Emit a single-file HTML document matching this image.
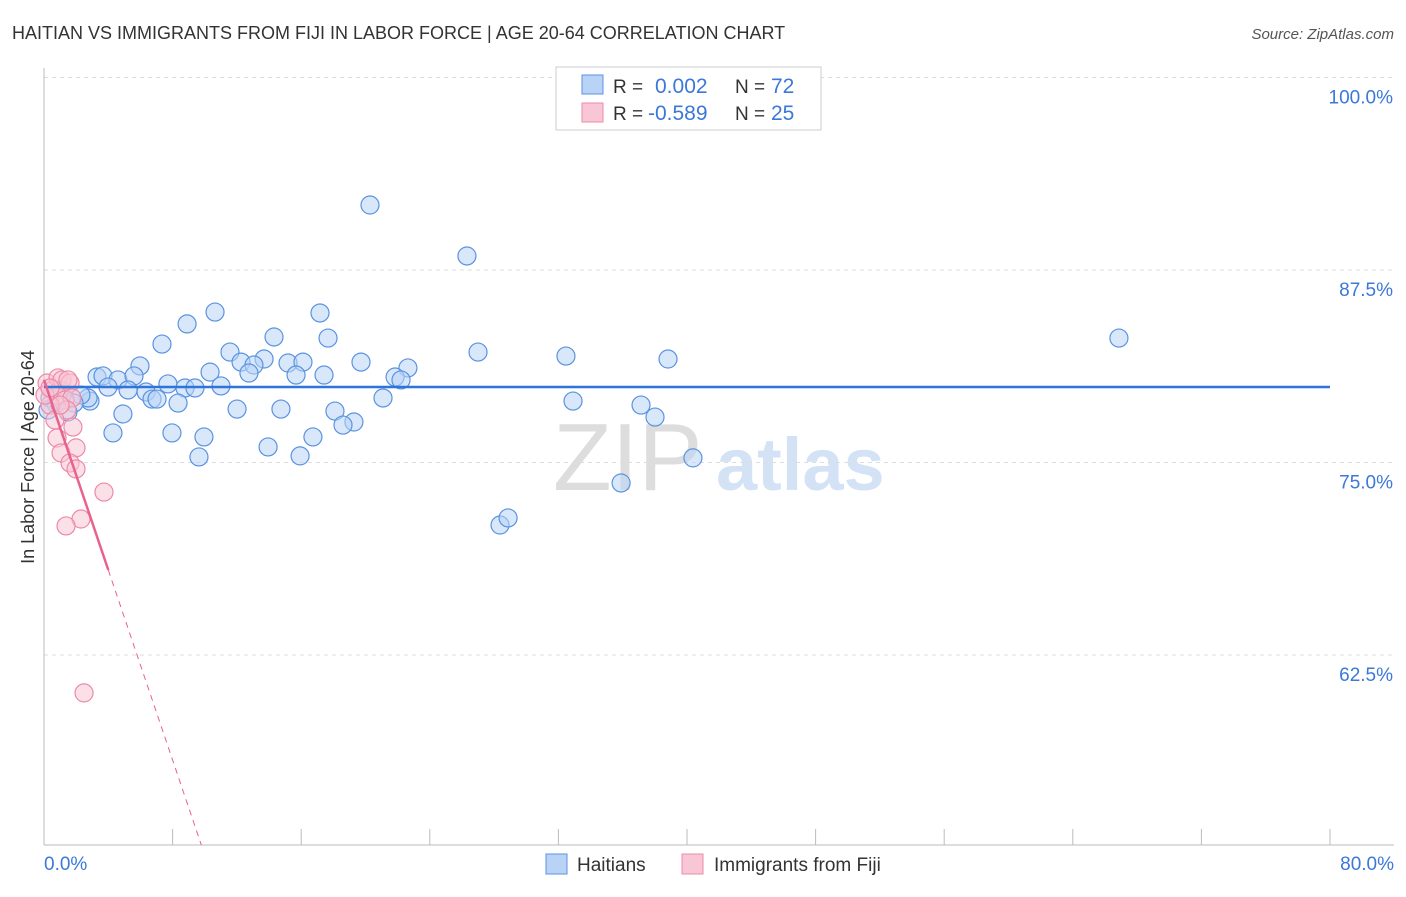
<!DOCTYPE html>
<html><head><meta charset="utf-8"><style>
body{margin:0;background:#fff;font-family:"Liberation Sans",sans-serif}
svg text{font-family:"Liberation Sans",sans-serif}
</style></head><body>
<svg id="chart" width="1406" height="892" xmlns="http://www.w3.org/2000/svg">
<text x="12" y="39" font-size="18" fill="#333">HAITIAN VS IMMIGRANTS FROM FIJI IN LABOR FORCE | AGE 20-64 CORRELATION CHART</text>
<text x="1394" y="39" font-size="15" fill="#555" font-style="italic" text-anchor="end">Source: ZipAtlas.com</text>
<g>
<text x="553" y="490" font-size="96" fill="#ddd" font-family="Liberation Serif,serif">ZIP</text>
<text x="716" y="490" font-size="74" fill="#d3e2f5" font-weight="bold">atlas</text>
</g>
<g id="grid"></g>
<g id="axes"></g>
<g id="lines"></g>
<g id="pts"></g>
<g>
<rect x="556" y="67" width="265" height="63" fill="#fff" stroke="#ccc"/>
<rect x="582" y="75" width="21" height="19" fill="#b8d3f5" stroke="#5a93e0"/>
<rect x="582" y="103" width="21" height="19" fill="#f9c6d6" stroke="#ec8aa8"/>
<text x="613" y="93" font-size="19" fill="#333">R =</text><text x="655" y="93" font-size="21" fill="#3b78d8">0.002</text>
<text x="735" y="93" font-size="19" fill="#333">N =</text><text x="771" y="93" font-size="21" fill="#3b78d8">72</text>
<text x="613" y="120" font-size="19" fill="#333">R =</text><text x="648" y="120" font-size="21" fill="#3b78d8">-0.589</text>
<text x="735" y="120" font-size="19" fill="#333">N =</text><text x="771" y="120" font-size="21" fill="#3b78d8">25</text>
</g>
<g>
<rect x="546" y="854" width="21" height="20" fill="#b8d3f5" stroke="#5a93e0"/>
<text x="577" y="871" font-size="19" fill="#333">Haitians</text>
<rect x="682" y="854" width="21" height="20" fill="#f9c6d6" stroke="#ec8aa8"/>
<text x="714" y="871" font-size="19" fill="#333">Immigrants from Fiji</text>
</g>
<text transform="translate(34,457) rotate(-90)" font-size="18" fill="#333" text-anchor="middle">In Labor Force | Age 20-64</text>
</svg>
<script>
const yTicks=[100,87.5,75,62.5];
const yTickLabels=["100.0%","87.5%","75.0%","62.5%"];
const xTicks=[8,16,24,32,40,48,56,64,72,80];
const haitiansX=[20.28,26.31,66.87,10.64,8.90,17.17,14.31,17.67,7.34,11.57,27.00,32.47,38.82,13.69,5.97,15.18,16.11,12.26,13.06,10.33,19.72,22.64,12.75,15.68,17.42,21.84,22.21,3.30,3.67,4.60,5.60,3.98,7.71,8.77,9.39,11.01,5.23,6.35,6.72,7.03,8.34,2.86,2.74,2.30,21.09,32.91,37.14,12.01,14.74,18.10,4.91,38.01,19.28,18.60,4.29,7.96,9.95,16.73,13.94,9.64,15.93,40.37,35.90,28.37,28.87,1.87,1.12,0.37,0.75,0.25,1.49,1.00];
const haitiansY=[91.72,88.41,83.08,84.77,84.0,84.71,83.15,83.08,82.69,82.17,82.17,81.91,81.72,81.72,81.27,81.46,81.52,81.52,81.33,80.87,81.52,81.14,80.81,80.68,80.68,80.55,80.36,80.55,80.62,80.36,80.62,79.90,80.10,79.84,79.84,79.97,79.71,79.58,79.12,79.12,78.86,78.99,79.19,79.38,79.19,78.99,78.73,78.47,78.47,78.34,78.15,77.95,77.63,77.43,76.92,76.92,76.66,76.66,76.01,75.36,75.43,75.30,73.67,70.94,71.40,78.86,79.38,79.19,78.80,78.41,78.28,79.71];
const fijiX=[0.19,0.56,0.87,1.12,1.62,0.81,1.31,1.74,1.43,0.37,0.68,1.80,0.81,1.06,1.99,1.62,1.99,3.73,2.30,1.37,2.49,0.06,0.37,1.00,1.49];
const fijiY=[80.16,79.71,80.49,80.36,80.16,79.38,79.06,79.19,78.41,78.73,77.76,77.30,76.59,75.62,75.95,74.97,74.58,73.08,71.33,70.88,60.04,79.38,79.84,78.73,80.36];
const haitiansTrend=[79.9,79.9];
const fijiTrend=[80.36,-3.085];
const NS="http://www.w3.org/2000/svg";
const sx=v=>44+v/80*1286;
const sy=v=>77.5+(100-v)/12.5*192.5;
function mk(tag,attrs,parent){const e=document.createElementNS(NS,tag);for(const k in attrs)e.setAttribute(k,attrs[k]);parent.appendChild(e);return e;}
const grid=document.getElementById('grid'),axes=document.getElementById('axes'),lines=document.getElementById('lines'),pts=document.getElementById('pts');
yTicks.forEach((t,i)=>{
 const l=mk('line',{x1:44,x2:1394,y1:sy(t),y2:sy(t),stroke:'#ddd','stroke-dasharray':'4,4'},grid);
 
 
 const tx=mk('text',{x:1393,y:sy(t)+26,'font-size':19,fill:'#3b78d8','text-anchor':'end'},axes);
 tx.textContent=yTickLabels[i];
 
 
});
mk('line',{x1:44,x2:44,y1:68,y2:845,stroke:'#bbb'},axes);
mk('line',{x1:44,x2:1394,y1:845,y2:845,stroke:'#bbb'},axes);
xTicks.forEach(t=>{const l=mk('line',{x1:sx(t),x2:sx(t),y1:829,y2:845,stroke:'#bbb'},axes);
 
 });
const x0=mk('text',{x:44,y:870,'font-size':19,fill:'#3b78d8'},axes);x0.textContent='0.0%';


const x1=mk('text',{x:1394,y:870,'font-size':19,fill:'#3b78d8','text-anchor':'end'},axes);x1.textContent='80.0%';


function dot(x,y,fill,stroke,name){const c=mk('circle',{cx:sx(x),cy:sy(y),r:9,fill:fill,'fill-opacity':0.55,stroke:stroke,'stroke-width':1.2},pts);
 
 }
haitiansX.forEach((x,i)=>dot(x,haitiansY[i],'#b8d3f5','#5a93e0','haitians-point'));
fijiX.forEach((x,i)=>dot(x,fijiY[i],'#f9c6d6','#ec8aa8','fiji-point'));
const bl=mk('line',{x1:sx(0),x2:sx(80),y1:sy(haitiansTrend[0]),y2:sy(haitiansTrend[1]),stroke:'#2f74d8','stroke-width':2.5},pts);


const fy=x=>fijiTrend[0]+fijiTrend[1]*x;
const xEnd=(50.16-fijiTrend[0])/fijiTrend[1];
const p1=mk('line',{x1:sx(0),x2:sx(4),y1:sy(fy(0)),y2:sy(fy(4)),stroke:'#e8628e','stroke-width':2.5},pts);


const p2=mk('line',{x1:sx(4),x2:sx(xEnd),y1:sy(fy(4)),y2:sy(fy(xEnd)),stroke:'#e8628e','stroke-width':1,'stroke-dasharray':'6,5'},pts);


</script>
</body></html>
